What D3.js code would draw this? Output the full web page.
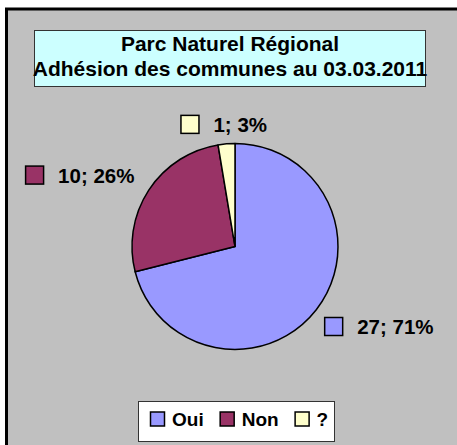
<!DOCTYPE html>
<html><head><meta charset="utf-8">
<script src="https://cdn.jsdelivr.net/npm/d3@7"></script>
<style>html,body{margin:0;padding:0;background:#fff;overflow:hidden}svg{display:block}</style>
</head><body>
<script>
const categories = ["Oui", "Non", "?"];
const values = [27, 10, 1];
const colors = ["#9999ff", "#993366", "#ffffcc"];
const titleLines = ["Parc Naturel Régional", "Adhésion des communes au 03.03.2011"];

const W = 457, H = 445;
const font = "'Liberation Sans', Arial, sans-serif";
const svg = d3.select("body").append("svg").attr("width", W).attr("height", H);

// chart area (cropped: only top and left borders visible)
svg.append("rect").attr("x", 7).attr("y", 9).attr("width", W - 7).attr("height", H - 9)
  .attr("fill", "#c0c0c0");
svg.append("path").attr("d", `M6.5,${H} V9 H${W}`).attr("fill", "none")
  .attr("stroke", "#000").attr("stroke-width", 3);

// title box
svg.append("rect").attr("x", 34.5).attr("y", 30.5).attr("width", 391).attr("height", 56)
  .attr("fill", "#ccffff").attr("stroke", "#333").attr("stroke-width", 1);
svg.append("text").attr("x", 230).attr("y", 51).attr("text-anchor", "middle")
  .attr("font-family", font).attr("font-weight", "bold").attr("font-size", 21)
  .selectAll("tspan").data(titleLines).join("tspan")
  .attr("x", 230).attr("dy", (d, i) => i === 0 ? 0 : 25).text(d => d);

// pie
const cx = 235, cy = 246.5, r = 103;
const total = d3.sum(values);
const pie = d3.pie().sort(null).value(d => d)(values);
const arc = d3.arc().innerRadius(0).outerRadius(r);
const g = svg.append("g").attr("transform", `translate(${cx},${cy})`);
g.selectAll("path").data(pie).join("path")
  .attr("d", arc).attr("fill", (d, i) => colors[i])
  .attr("stroke", "#000").attr("stroke-width", 1.5).attr("stroke-linejoin", "round");

// data labels
const labelR = 131;
pie.forEach((d, i) => {
  const a = (d.startAngle + d.endAngle) / 2;
  const s = Math.sin(a), c = Math.cos(a);
  const txt = `${values[i]}; ${Math.round(values[i] / total * 100)}%`;
  const lg = g.append("g");
  lg.append("rect").attr("x", 0.5).attr("y", 0.5).attr("width", 18).attr("height", 18)
    .attr("fill", colors[i]).attr("stroke", "#000").attr("stroke-width", 1.5);
  const t = lg.append("text").attr("x", 33).attr("y", 17).attr("font-family", font)
    .attr("font-weight", "bold").attr("font-size", 20.5).attr("fill", "#000").text(txt);
  const w = 33 + t.node().getComputedTextLength();
  const bx = labelR * s + s * Math.abs(s) * 65;
  const by = -labelR * c + Math.pow(Math.abs(c), 6) * Math.sign(c) * 8.6;
  lg.attr("transform", `translate(${bx - w / 2},${by - 9.5})`);
});

// legend
svg.append("rect").attr("x", 138.5).attr("y", 401.5).attr("width", 196).attr("height", 40)
  .attr("fill", "#fff").attr("stroke", "#333").attr("stroke-width", 1);
let lx = 150;
categories.forEach((name, i) => {
  svg.append("rect").attr("x", lx + 0.5).attr("y", 412).attr("width", 14).attr("height", 14)
    .attr("fill", colors[i]).attr("stroke", "#000").attr("stroke-width", 1.5);
  const t = svg.append("text").attr("x", lx + 22).attr("y", 426).attr("font-family", font)
    .attr("font-weight", "bold").attr("font-size", 19).text(name);
  lx += 22 + t.node().getComputedTextLength() + 16;
});
</script>
</body></html>
